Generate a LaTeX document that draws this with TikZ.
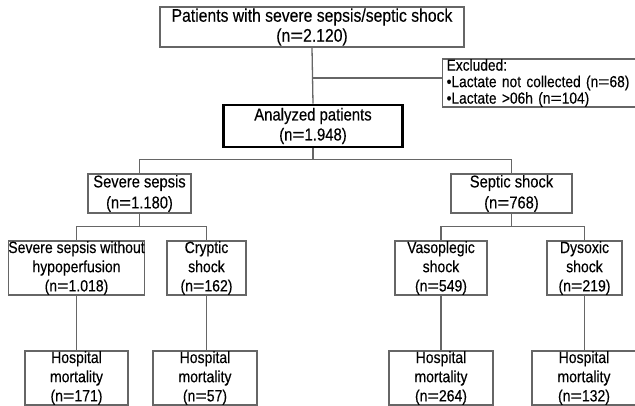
\documentclass[tikz,border=0pt]{standalone}
\usepackage{graphicx}
\usepackage{fontspec}
\setmainfont[FakeStretch=0.86,FakeBold=0.3]{Liberation Sans}
\newcommand{\wideeq}{\scalebox{1.4}[1]{=}}
\definecolor{boxgray}{HTML}{666666}
\definecolor{linegray}{HTML}{666666}
\begin{document}
\begin{tikzpicture}[x=1pt,y=-1pt,
  box/.style={draw=boxgray, line width=1.3pt, inner sep=0pt, align=center, text=black,
    font=\fontsize{16.3}{19.2}\selectfont},
  mainbox/.style={box, draw=black, line width=2.8pt},
  exclbox/.style={draw=boxgray, line width=1.3pt, inner xsep=4pt, inner ysep=0pt,
    text width=197pt, align=left, text=black, anchor=west,
    font=\fontsize{16}{16.5}\selectfont},
  conn/.style={draw=linegray, line width=1.3pt}]
\useasboundingbox (0,0) rectangle (635,406);
\node[box, minimum width=304pt, minimum height=40pt, font=\fontsize{18.3}{20}\selectfont] (top) at (312,27)
  {Patients with severe sepsis/septic shock\\(n\wideeq2.120)};
\node[exclbox, minimum height=48pt] (excl) at (442,83)
  {Excluded:\\\textbullet Lactate not collected (n\wideeq68)\\\textbullet Lactate >06h (n\wideeq104)};
\node[mainbox, minimum width=179pt, minimum height=42pt, font=\fontsize{17.3}{20}\selectfont] (ana) at (313,126)
  {Analyzed patients\\(n\wideeq1.948)};
\node[box, minimum width=103pt, minimum height=39pt, font=\fontsize{17.1}{21}\selectfont] (ss) at (139.5,193.5)
  {Severe sepsis\\(n\wideeq1.180)};
\node[box, minimum width=121pt, minimum height=39pt, font=\fontsize{17.1}{21}\selectfont] (sh) at (511.5,193.5)
  {Septic shock\\(n\wideeq768)};
\node[box, minimum width=135pt, minimum height=54pt] (sswh) at (76.5,268)
  {Severe sepsis without\\hypoperfusion\\(n\wideeq1.018)};
\node[box, minimum width=79pt, minimum height=54pt] (cry) at (206.5,268)
  {Cryptic\\shock\\(n\wideeq162)};
\node[box, minimum width=92pt, minimum height=54pt] (vas) at (441,268)
  {Vasoplegic\\shock\\(n\wideeq549)};
\node[box, minimum width=75pt, minimum height=54pt] (dys) at (584.5,268)
  {Dysoxic\\shock\\(n\wideeq219)};
\node[box, minimum width=103pt, minimum height=54pt] (h1) at (76.5,378)
  {Hospital\\mortality\\(n\wideeq171)};
\node[box, minimum width=104pt, minimum height=54pt] (h2) at (205,378)
  {Hospital\\mortality\\(n\wideeq57)};
\node[box, minimum width=104pt, minimum height=54pt] (h3) at (441,378)
  {Hospital\\mortality\\(n\wideeq264)};
\node[box, minimum width=104pt, minimum height=54pt] (h4) at (584,378)
  {Hospital\\mortality\\(n\wideeq132)};
% connectors
\draw[conn] (top.south) -- (ana.north);
\coordinate (b1) at (313,78);
\draw[conn] (b1) -- (b1 -| excl.west);
\draw[conn] (ana.south) -- ++(0,11) coordinate (b2);
\draw[conn] (ss.north) |- (b2) -| (sh.north);
\draw[conn] (ss.south) -- ++(0,13) coordinate (b3);
\draw[conn] (sswh.north) |- (b3) -| (cry.north);
\draw[conn] (sh.south) -- ++(0,13) coordinate (b4);
\draw[conn] (vas.north) |- (b4) -| (dys.north);
\draw[conn] (sswh.south) -- (h1.north);
\draw[conn] (cry.south) -- (cry.south |- h2.north);
\draw[conn] (vas.south) -- (h3.north);
\draw[conn] (dys.south) -- (dys.south |- h4.north);
\end{tikzpicture}
\end{document}
